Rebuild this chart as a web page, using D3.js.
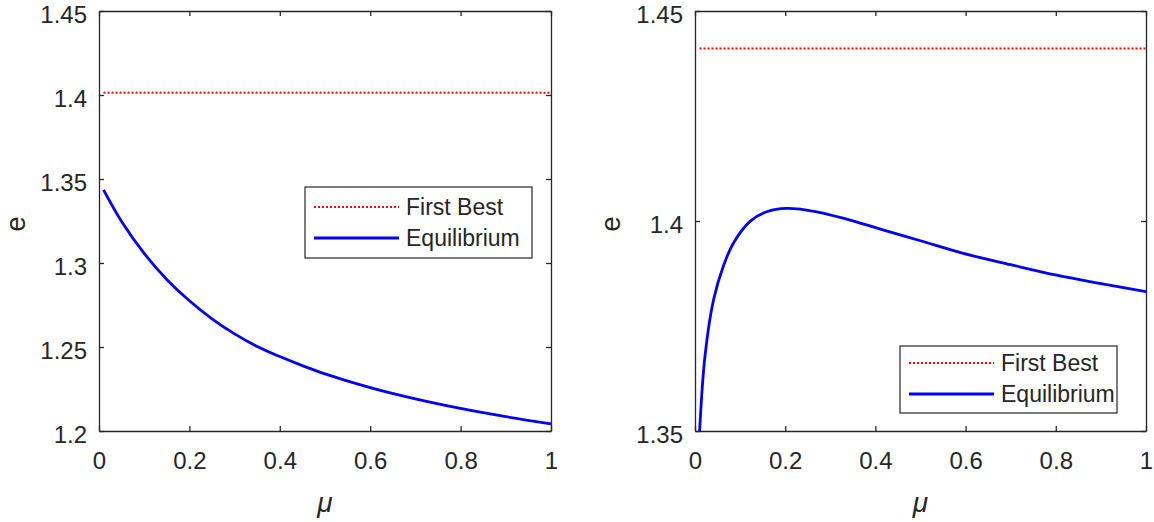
<!DOCTYPE html>
<html><head><meta charset="utf-8">
<script src="https://cdn.jsdelivr.net/npm/d3@7"></script>
<style>body{margin:0;background:#fff;} text{font-family:"Liberation Sans",Arial,sans-serif;fill:#262626;}</style>
</head><body>
<svg id="c" width="1154" height="522"></svg>
<script>
// Data
const xTicks = [0, 0.2, 0.4, 0.6, 0.8, 1];
const xTickLabels = ["0", "0.2", "0.4", "0.6", "0.8", "1"];
const leftYTicks = [1.2, 1.25, 1.3, 1.35, 1.4, 1.45];
const leftYTickLabels = ["1.2", "1.25", "1.3", "1.35", "1.4", "1.45"];
const rightYTicks = [1.35, 1.4, 1.45];
const rightYTickLabels = ["1.35", "1.4", "1.45"];
const seriesNames = ["First Best", "Equilibrium"];

const leftFirstBest = [[0.01, 1.4013], [1, 1.4013]];
const leftEquilibrium = [
  [0.01, 1.3435], [0.05, 1.3247], [0.10, 1.3057], [0.15, 1.2902], [0.20, 1.2775],
  [0.25, 1.2668], [0.30, 1.2578], [0.35, 1.2503], [0.40, 1.2443], [0.45, 1.2389],
  [0.50, 1.2340], [0.60, 1.2258], [0.70, 1.2191], [0.80, 1.2134], [0.90, 1.2085], [1.0, 1.2042]
];
const rightFirstBest = [[0.01, 1.4411], [1, 1.4411]];
const rightEquilibrium = [
  [0.01, 1.3495], [0.022, 1.3677], [0.041, 1.3812], [0.063, 1.3893], [0.085, 1.3947],
  [0.122, 1.3999], [0.159, 1.4022], [0.203, 1.4030], [0.27, 1.4022], [0.344, 1.4002],
  [0.432, 1.3974], [0.50, 1.3953], [0.595, 1.3923], [0.70, 1.3896], [0.802, 1.3871],
  [0.90, 1.3851], [1.0, 1.3832]
];

const svg = d3.select("#c");
const FS = 24;

function panel(cfg) {
  const x = d3.scaleLinear().domain([0, 1]).range([cfg.x0, cfg.x1]);
  const y = d3.scaleLinear().domain(cfg.ydom).range([cfg.y1, cfg.y0]);
  const g = svg.append("g");
  const clipId = "clip" + cfg.id;
  svg.append("clipPath").attr("id", clipId).append("rect")
    .attr("x", cfg.x0).attr("y", cfg.y0).attr("width", cfg.x1 - cfg.x0).attr("height", cfg.y1 - cfg.y0);

  const axCol = "#262626";
  const bottom = d3.axisBottom(x).tickValues(cfg.xt).tickFormat((d, i) => xTickLabels[i]).tickSizeInner(-5).tickSizeOuter(0).tickPadding(21);
  const top = d3.axisTop(x).tickValues(cfg.xt).tickFormat("").tickSizeInner(-5).tickSizeOuter(0);
  const left = d3.axisLeft(y).tickValues(cfg.yt).tickFormat((d, i) => cfg.ytl[i]).tickSizeInner(-5).tickSizeOuter(0).tickPadding(12);
  const right = d3.axisRight(y).tickValues(cfg.yt).tickFormat("").tickSizeInner(-5).tickSizeOuter(0);
  const axes = [
    g.append("g").attr("transform", `translate(0,${cfg.y1})`).call(bottom),
    g.append("g").attr("transform", `translate(0,${cfg.y0})`).call(top),
    g.append("g").attr("transform", `translate(${cfg.x0},0)`).call(left),
    g.append("g").attr("transform", `translate(${cfg.x1},0)`).call(right)
  ];
  axes.forEach(a => {
    a.selectAll("path").attr("stroke", axCol).attr("stroke-width", 1.3);
    a.selectAll("line").attr("stroke", axCol).attr("stroke-width", 1.3);
    a.selectAll("text").attr("font-size", FS).attr("fill", "#262626").attr("font-family", '"Liberation Sans",Arial,sans-serif');
  });
  axes[2].selectAll("text").attr("dy", "0.46em");

  const line = d3.line().x(d => x(d[0])).y(d => y(d[1])).curve(d3.curveCatmullRom.alpha(0.5));
  const plot = g.append("g").attr("clip-path", `url(#${clipId})`);
  plot.append("path").datum(cfg.eq).attr("d", line).attr("fill", "none").attr("stroke", "#0000ff").attr("stroke-width", 2.8);
  plot.append("path").datum(cfg.fb).attr("d", line).attr("fill", "none").attr("stroke", "#ff0000").attr("stroke-width", 2).attr("stroke-dasharray", "2,2");

  g.append("text").attr("x", (cfg.x0 + cfg.x1) / 2).attr("y", 512).attr("text-anchor", "middle")
    .attr("font-size", 28).attr("font-style", "italic").attr("font-family", '"Liberation Serif","DejaVu Serif",serif').text("\u03bc");
  g.append("text").attr("transform", `translate(${cfg.ylabX},${cfg.ylabY}) rotate(-90)`).attr("text-anchor", "middle")
    .attr("font-size", 28).text("e");

  const L = cfg.leg;
  g.append("rect").attr("x", L.x).attr("y", L.y).attr("width", L.w).attr("height", L.h)
    .attr("fill", "#fff").attr("stroke", "#262626").attr("stroke-width", 1.2);
  const rows = [{ c: "#ff0000", w: 2, da: "2,2" }, { c: "#0000ff", w: 2.8, da: null }];
  rows.forEach((r, i) => {
    const yy = L.y + L.r0 + i * L.dr;
    const ln = g.append("line").attr("x1", L.x + 9).attr("x2", L.x + 94).attr("y1", yy).attr("y2", yy)
      .attr("stroke", r.c).attr("stroke-width", r.w);
    if (r.da) ln.attr("stroke-dasharray", r.da);
    g.append("text").attr("x", L.x + 101).attr("y", yy).attr("dy", "0.35em").attr("font-size", 23).text(seriesNames[i]);
  });
}

panel({ id: "L", x0: 99, x1: 551, y0: 11, y1: 431, ydom: [1.2, 1.45], xt: xTicks, yt: leftYTicks, ytl: leftYTickLabels,
  fb: leftFirstBest, eq: leftEquilibrium, ylabX: 25, ylabY: 224,
  leg: { x: 305, y: 187, w: 227, h: 71, r0: 20, dr: 31 } });
panel({ id: "R", x0: 695, x1: 1146, y0: 11, y1: 431, ydom: [1.35, 1.45], xt: xTicks, yt: rightYTicks, ytl: rightYTickLabels,
  fb: rightFirstBest, eq: rightEquilibrium, ylabX: 620, ylabY: 224,
  leg: { x: 900, y: 346, w: 217, h: 67, r0: 17, dr: 31 } });
</script>
</body></html>
